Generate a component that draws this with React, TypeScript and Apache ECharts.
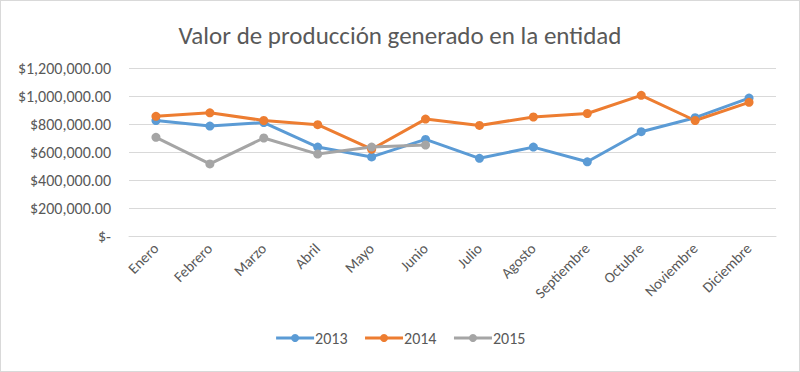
import React, { useEffect, useRef } from "react";
import * as echarts from "echarts";

const months = ["Enero", "Febrero", "Marzo", "Abril", "Mayo", "Junio", "Julio", "Agosto", "Septiembre", "Octubre", "Noviembre", "Diciembre"];
const v2013 = [825000, 785000, 810000, 635000, 565000, 690000, 555000, 635000, 530000, 745000, 845000, 985000];
const v2014 = [855000, 880000, 825000, 795000, 620000, 835000, 790000, 850000, 875000, 1005000, 825000, 955000];
const v2015 = [705000, 515000, 700000, 585000, 635000, 650000, null, null, null, null, null, null];
const seriesNames = ["2013", "2014", "2015"];
const colors = ["#5B9BD5", "#ED7D31", "#A5A5A5"];

const FONT = "Carlito, 'Liberation Sans Narrow', 'Liberation Sans', sans-serif";

function fmt(v: number): string {
  if (v === 0) return "$-";
  return "$" + v.toLocaleString("en-US", { minimumFractionDigits: 2, maximumFractionDigits: 2 });
}

export default function App() {
  const ref = useRef<HTMLDivElement>(null);
  useEffect(() => {
    if (!ref.current) return;
    const chart = echarts.init(ref.current, null, { renderer: "svg" });
    const data = [v2013, v2014, v2015];
    chart.setOption({
      animation: false,
      backgroundColor: "#ffffff",
      title: {
        text: "Valor de producción generado en la entidad",
        left: "center",
        top: 17,
        textStyle: { fontFamily: FONT, fontSize: 25, fontWeight: "normal", color: "#595959" },
      },
      legend: {
        bottom: 20,
        left: "center",
        itemWidth: 38,
        itemHeight: 10,
        itemGap: 16,
        lineStyle: { width: 3 },
        textStyle: { fontFamily: FONT, fontSize: 16, color: "#595959", padding: [0, 0, 0, -4] },
        data: seriesNames,
      },
      grid: { left: 128, right: 23, top: 67, bottom: 135 },
      xAxis: {
        type: "category",
        data: months,
        boundaryGap: true,
        axisLine: { lineStyle: { color: "#d9d9d9" } },
        axisTick: { show: false },
        axisLabel: { rotate: 45, margin: 10, interval: 0, fontFamily: FONT, fontSize: 15, color: "#595959" },
      },
      yAxis: {
        type: "value",
        min: 0,
        max: 1200000,
        interval: 200000,
        axisLine: { show: false },
        axisTick: { show: false },
        splitLine: { lineStyle: { color: "#d9d9d9", width: 1 } },
        axisLabel: { margin: 18, fontFamily: FONT, fontSize: 16, color: "#595959", formatter: fmt },
      },
      series: data.map((d, i) => ({
        name: seriesNames[i],
        type: "line",
        data: d,
        symbol: "circle",
        symbolSize: 9,
        lineStyle: { width: 3, color: colors[i] },
        itemStyle: { color: colors[i] },
        connectNulls: false,
      })),
    });
    return () => chart.dispose();
  }, []);
  return (
    <div
      ref={ref}
      style={{ position: "fixed", left: 0, top: 0, width: 800, height: 372, boxSizing: "border-box", border: "1px solid #d9d9d9" }}
    />
  );
}
